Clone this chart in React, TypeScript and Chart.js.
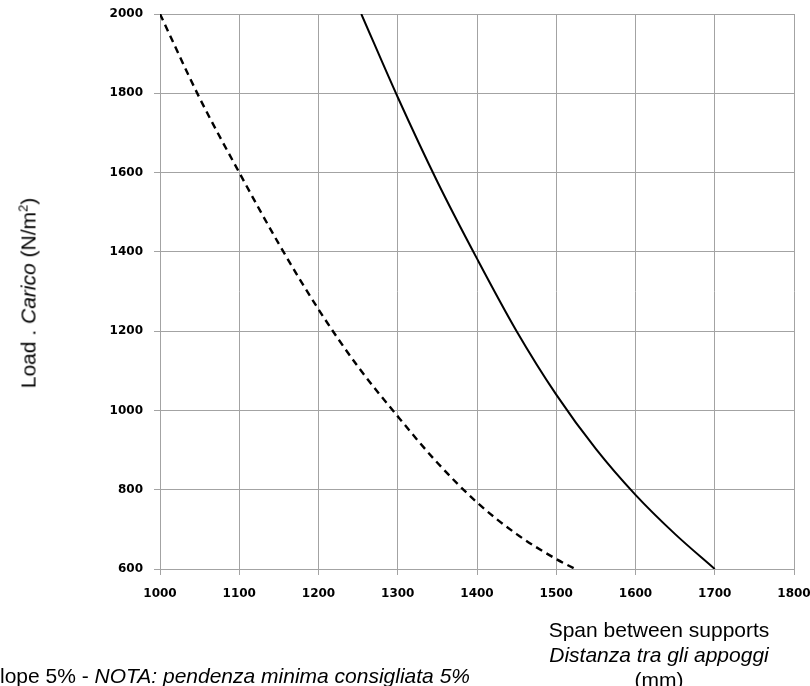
import React, { useEffect, useRef } from "react";
import { Chart, registerables } from "chart.js";

Chart.register(...registerables);

// Dashed curve (span mm -> load N/m²)
const dashedSpan = [1000, 1050, 1100, 1150, 1200, 1250, 1300, 1350, 1400, 1450, 1500, 1524];
const dashedLoad = [2000, 1788, 1600, 1420, 1255, 1110, 985, 868, 768, 688, 625, 600];

// Solid curve
const solidSpan = [1254, 1300, 1350, 1400, 1450, 1500, 1550, 1600, 1650, 1700];
const solidLoad = [2000, 1790, 1577, 1383, 1200, 1040, 903, 787, 688, 600];

const xMin = 1000;
const xMax = 1800;
const xStep = 100;
const yMin = 600;
const yMax = 2000;
const yStep = 200;

const yTitleA = "Load . ";
const yTitleB = "Carico";
const yTitleC = " (N/m";
const xTitle1 = "Span between supports";
const xTitle2 = "Distanza tra gli appoggi";
const xTitle3 = "(mm)";
const noteA = "NOTE: minimum recommended slope 5% - ";
const noteB = "NOTA: pendenza minima consigliata 5%";

const GRID = "#a3a3a3";
const TXT_FONT = '"Liberation Sans", Arial, sans-serif';

export default function App() {
  const ref = useRef<HTMLCanvasElement | null>(null);

  useEffect(() => {
    if (!ref.current) return;
    const tickFont = { family: '"DejaVu Sans", sans-serif', size: 12, weight: "bold" as const };
    const plain = (v: any) => String(v);
    const chart = new Chart(ref.current, {
      type: "line",
      data: {
        datasets: [
          {
            label: "dashed",
            data: dashedSpan.map((x, i) => ({ x, y: dashedLoad[i] })),
            borderColor: "#000",
            borderWidth: 2.4,
            borderDash: [7, 5],
            pointRadius: 0,
            cubicInterpolationMode: "monotone",
            fill: false,
          },
          {
            label: "solid",
            data: solidSpan.map((x, i) => ({ x, y: solidLoad[i] })),
            borderColor: "#000",
            borderWidth: 2,
            pointRadius: 0,
            cubicInterpolationMode: "monotone",
            fill: false,
          },
        ],
      },
      options: {
        responsive: false,
        animation: false,
        events: [],
        layout: { padding: { left: 0, right: 16, top: 14, bottom: 0 } },
        plugins: {
          legend: { display: false },
          tooltip: { enabled: false },
          title: { display: false },
        },
        scales: {
          x: {
            type: "linear",
            min: xMin,
            max: xMax,
            afterFit: (s: any) => {
              s.height = 117;
              s.paddingLeft = 0;
              s.paddingRight = 0;
            },
            ticks: {
              stepSize: xStep,
              color: "#000",
              font: tickFont,
              padding: 12,
              maxRotation: 0,
              callback: plain,
            },
            grid: { color: GRID, lineWidth: 1, tickLength: 6, drawTicks: true },
            border: { display: true, color: GRID, width: 1 },
          },
          y: {
            type: "linear",
            min: yMin,
            max: yMax,
            afterFit: (s: any) => {
              s.width = 160;
              s.paddingTop = 0;
              s.paddingBottom = 0;
            },
            ticks: {
              stepSize: yStep,
              color: "#000",
              font: tickFont,
              padding: 11,
              callback: plain,
            },
            grid: { color: GRID, lineWidth: 1, tickLength: 6, drawTicks: true },
            border: { display: true, color: GRID, width: 1 },
          },
        },
      },
    });
    return () => chart.destroy();
  }, []);

  return (
    <div
      style={{
        position: "fixed",
        left: 0,
        top: 0,
        width: 810,
        height: 686,
        background: "#fff",
        overflow: "hidden",
      }}
    >
      <canvas ref={ref} width={810} height={686} style={{ width: 810, height: 686, display: "block" }} />
      <div
        style={{
          position: "absolute",
          left: 28,
          top: 293,
          transform: "translate(-50%, -50%) rotate(-90deg)",
          whiteSpace: "nowrap",
          font: `21px ${TXT_FONT}`,
          lineHeight: "25px",
          color: "#000",
        }}
      >
        {yTitleA}
        <i>{yTitleB}</i>
        {yTitleC}
        <sup style={{ fontSize: 13, lineHeight: 0 }}>2</sup>)
      </div>
      <div
        style={{
          position: "absolute",
          left: 459,
          width: 400,
          top: 617,
          textAlign: "center",
          font: `21px ${TXT_FONT}`,
          lineHeight: "25px",
          color: "#000",
        }}
      >
        <div>{xTitle1}</div>
        <div style={{ fontStyle: "italic" }}>{xTitle2}</div>
        <div>{xTitle3}</div>
      </div>
      <div
        style={{
          position: "absolute",
          right: 340,
          top: 663,
          whiteSpace: "nowrap",
          font: `21px ${TXT_FONT}`,
          lineHeight: "25px",
          color: "#000",
        }}
      >
        {noteA}
        <i>{noteB}</i>
      </div>
    </div>
  );
}
